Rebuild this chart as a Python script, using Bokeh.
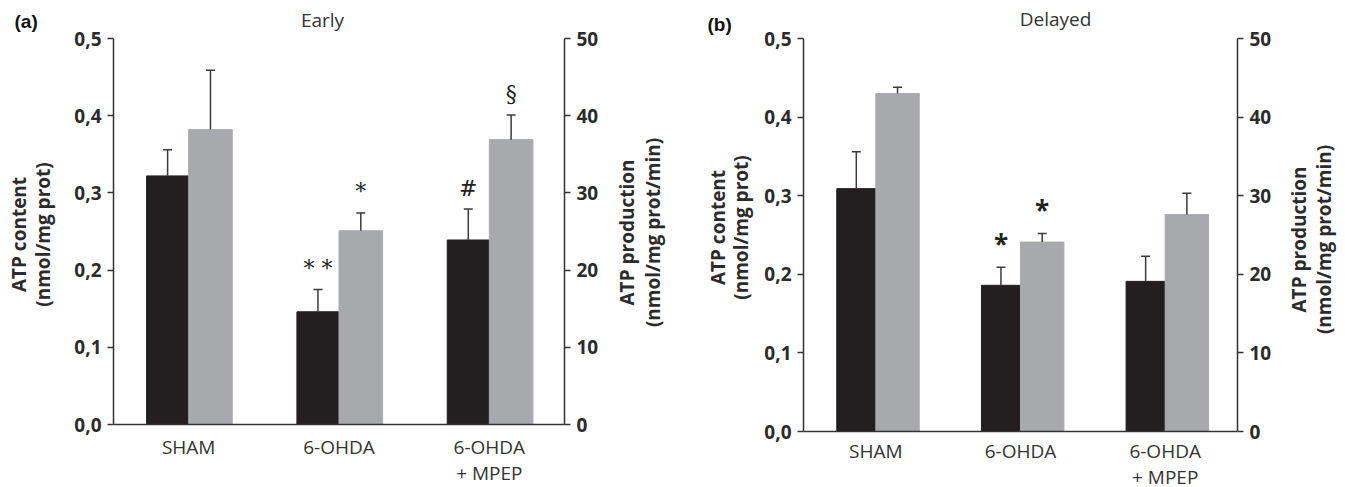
import math
from bokeh.plotting import figure
from bokeh.models import (Range1d, LinearAxis, FactorRange, CustomJSTickFormatter,
                          FixedTicker, ColumnDataSource, GridBox)
from bokeh.layouts import row
from bokeh.transform import dodge
from bokeh.embed import file_html
from bokeh.resources import INLINE
from bokeh.core.properties import value

groups = ["SHAM", "6-OHDA", "6-OHDA\n+ MPEP"]

# Panel (a) Early
content_a = [0.322, 0.146, 0.239]
content_err_a = [0.034, 0.029, 0.040]
prod_a = [38.2, 25.1, 36.9]
prod_err_a = [7.7, 2.3, 3.2]
marks_black_a = ["", "* *", "#"]
marks_gray_a = ["", "*", "§"]

# Panel (b) Delayed
content_b = [0.309, 0.186, 0.191]
content_err_b = [0.047, 0.023, 0.032]
prod_b = [43.0, 24.1, 27.6]
prod_err_b = [0.8, 1.1, 2.7]
marks_black_b = ["", "*", ""]
marks_gray_b = ["", "*", ""]

left_ticks = [0.0, 0.1, 0.2, 0.3, 0.4, 0.5]
right_ticks = [0, 10, 20, 30, 40, 50]

# texts
panel_titles = ["Early", "Delayed"]
panel_tags = ["(a)", "(b)"]
left_label = ["ATP content", "(nmol/mg prot)"]
right_label = ["ATP production", "(nmol/mg prot/min)"]

BLACK = "#231f20"
GRAY = "#a7a9ac"
AX = "#333333"
FONT = "Open Sans"
W, H = 1345, 487


def panel(content, content_err, prod, prod_err, mb, mg,
          fw, fh, bl, br, bt, bb, wb, wg,
          mark_font, mark_style, mark_size, mark_off, xstand):
    p = figure(x_range=FactorRange(factors=groups, range_padding=0),
               y_range=Range1d(0, 0.5),
               frame_width=fw, frame_height=fh,
               min_border_left=bl, min_border_right=br,
               min_border_top=bt, min_border_bottom=bb,
               output_backend="svg", toolbar_location=None)
    p.extra_y_ranges = {"right": Range1d(0, 50)}
    p.outline_line_color = None
    p.xgrid.grid_line_color = None
    p.ygrid.grid_line_color = None
    p.background_fill_color = "white"
    p.border_fill_color = "white"

    src = ColumnDataSource(dict(
        g=groups, c=content, ct=[v + e for v, e in zip(content, content_err)],
        pr=prod, pt=[v + e for v, e in zip(prod, prod_err)], mb=mb, mg=mg))

    xb = dodge("g", -wb / 2, range=p.x_range)
    xg = dodge("g", wg / 2, range=p.x_range)

    p.vbar(x=xb, top="c", bottom=0, width=wb, source=src,
           fill_color=BLACK, line_color=BLACK)
    p.vbar(x=xg, top="pr", bottom=0, width=wg, source=src,
           fill_color=GRAY, line_color=GRAY, y_range_name="right")

    p.segment(x0=xb, y0="c", x1=xb, y1="ct", source=src,
              line_color="#3a3a3a", line_width=1.5)
    p.scatter(x=xb, y="ct", marker="dash", size=9, source=src,
              line_color="#3a3a3a", line_width=1.5)
    p.segment(x0=xg, y0="pr", x1=xg, y1="pt", source=src,
              line_color="#3a3a3a", line_width=1.5, y_range_name="right")
    p.scatter(x=xg, y="pt", marker="dash", size=9, source=src,
              line_color="#3a3a3a", line_width=1.5, y_range_name="right")

    p.text(x=xb, y="ct", text="mb", source=src, y_offset=-mark_off,
           text_align="center", text_baseline="middle",
           text_font=value(mark_font), text_font_style=mark_style,
           text_font_size=mark_size, text_color="#222222")
    p.text(x=xg, y="pt", text="mg", source=src, y_offset=-mark_off,
           text_align="center", text_baseline="middle",
           text_font=value(mark_font), text_font_style=mark_style,
           text_font_size=mark_size, text_color="#222222",
           y_range_name="right")

    ya = p.yaxis[0]
    ya.ticker = FixedTicker(ticks=left_ticks)
    ya.formatter = CustomJSTickFormatter(code="return tick.toFixed(1).replace('.', ',');")

    ra = LinearAxis(y_range_name="right", ticker=FixedTicker(ticks=right_ticks))
    p.add_layout(ra, "right")

    for ax in (ya, ra):
        ax.axis_line_color = AX
        ax.axis_line_width = 1.5
        ax.major_tick_line_color = AX
        ax.major_tick_line_width = 1.5
        ax.major_tick_out = 6
        ax.major_tick_in = 0
        ax.minor_tick_line_color = None
        ax.major_label_text_font = FONT
        ax.major_label_text_font_style = "bold"
        ax.major_label_text_font_size = "19px"
        ax.major_label_text_color = "#2b2b2b"
        ax.major_label_standoff = 6

    xa = p.xaxis[0]
    xa.axis_line_color = AX
    xa.axis_line_width = 1.5
    xa.major_tick_line_color = None
    xa.minor_tick_line_color = None
    xa.major_label_text_font = FONT
    xa.major_label_text_font_size = "19px"
    xa.major_label_text_line_height = 1.0
    xa.major_label_text_color = "#333333"
    xa.major_label_standoff = xstand
    return p


# panel (a): frame x 113..564, y 38..424 (screen px)
pa = panel(content_a, content_err_a, prod_a, prod_err_a, marks_black_a, marks_gray_a,
           fw=451, fh=386, bl=113, br=106, bt=38, bb=63,
           wb=0.28, wg=0.29,
           mark_font="DejaVu Serif", mark_style="normal", mark_size="22px", mark_off=21,
           xstand=3)

# panel (b): frame x 803..1237, y 34..427 (screen px)
pb = panel(content_b, content_err_b, prod_b, prod_err_b, marks_black_b, marks_gray_b,
           fw=434, fh=393, bl=133, br=108, bt=34, bb=60,
           wb=0.27, wg=0.30,
           mark_font=FONT, mark_style="bold", mark_size="26px", mark_off=23,
           xstand=0)

# transparent overlay carrying panel tags, titles and axis titles (screen px coords)
ov = figure(width=W, height=H, x_range=Range1d(0, W), y_range=Range1d(H, 0),
            x_axis_location=None, y_axis_location=None, min_border=0,
            output_backend="svg", toolbar_location=None)
ov.grid.visible = False
ov.outline_line_color = None
ov.background_fill_color = None
ov.border_fill_color = None

ov.text(x=[14, 707], y=[21, 24], text=panel_tags, text_align="left",
        text_baseline="middle", text_font=value("Liberation Sans"),
        text_font_style="bold", text_font_size="19px", text_color="#111111")
ov.text(x=[322, 1055], y=[19, 18], text=panel_titles, text_align="center",
        text_baseline="middle", text_font=value(FONT),
        text_font_size="19px", text_color="#333333")
ov.text(x=[18, 42, 717, 740], y=[234, 234, 227, 227],
        text=left_label + left_label, angle=math.pi / 2,
        text_align="center", text_baseline="middle", text_font=value(FONT),
        text_font_style="bold", text_font_size="19px", text_color="#2b2b2b")
ov.text(x=[626, 652, 1298, 1323], y=[232, 232, 239, 239],
        text=right_label + right_label, angle=math.pi / 2,
        text_align="center", text_baseline="middle", text_font=value(FONT),
        text_font_style="bold", text_font_size="19px", text_color="#2b2b2b")

plots = row(pa, pb, spacing=0)
layout = GridBox(children=[(plots, 0, 0), (ov, 0, 0)], spacing=0)
open("out.html", "w").write(file_html(layout, INLINE))
